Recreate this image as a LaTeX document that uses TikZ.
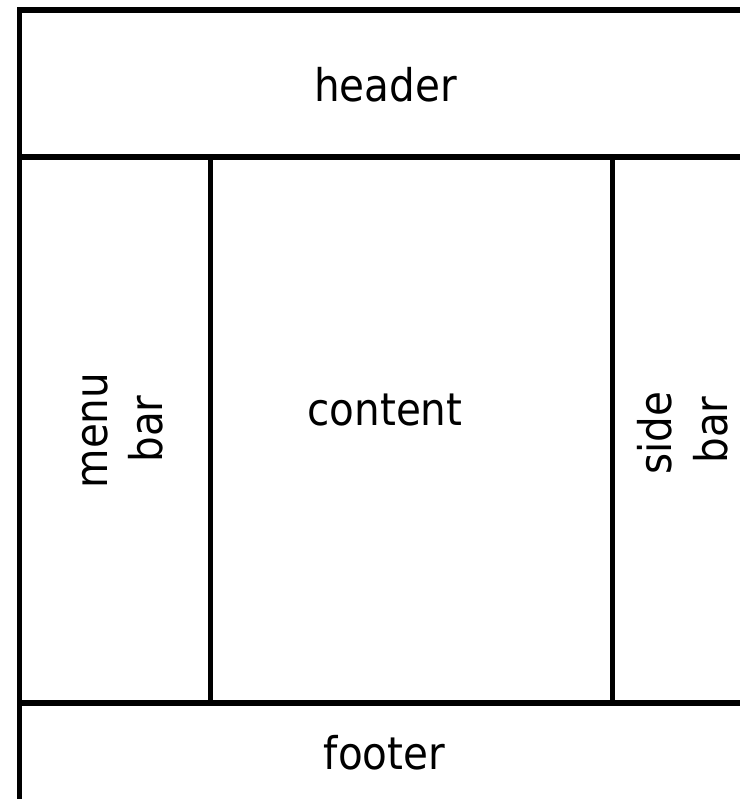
\documentclass[tikz,border=0pt]{standalone}
\usepackage{fontspec}
\setmainfont{DejaVu Sans}[FakeStretch=0.9]
\begin{document}
\begin{tikzpicture}[x=0.025cm,y=-0.025cm,line width=3.6pt,part label/.style={font=\fontsize{32}{38}\selectfont,anchor=base,inner sep=0pt},side label/.style={part label,rotate=90}]
        \useasboundingbox (0,0) rectangle (740,799);
        \clip (0,0) rectangle (740,799);
        % page frame and its parts
        \draw (19.5,10) rectangle (752,803);
        \draw (19.5,157) -- (752,157);
        \draw (19.5,703) -- (752,703);
        \draw (210.5,157) -- (210.5,703);
        \draw (612.5,157) -- (612.5,703);
        \node [part label] (header) at (385.5,102) {header};
        \node [part label] (content) at (385,425) {content};
        \node [part label] (footer) at (384.5,769) {footer};
        \node [side label] (menu) at (107,430.5) {menu};
        \node [side label] (menubar) at (162,429) {bar};
        \node [side label] (side) at (671.5,433.5) {side};
        \node [side label] (sidebar) at (727.5,430) {bar};
    \end{tikzpicture}
\end{document}
